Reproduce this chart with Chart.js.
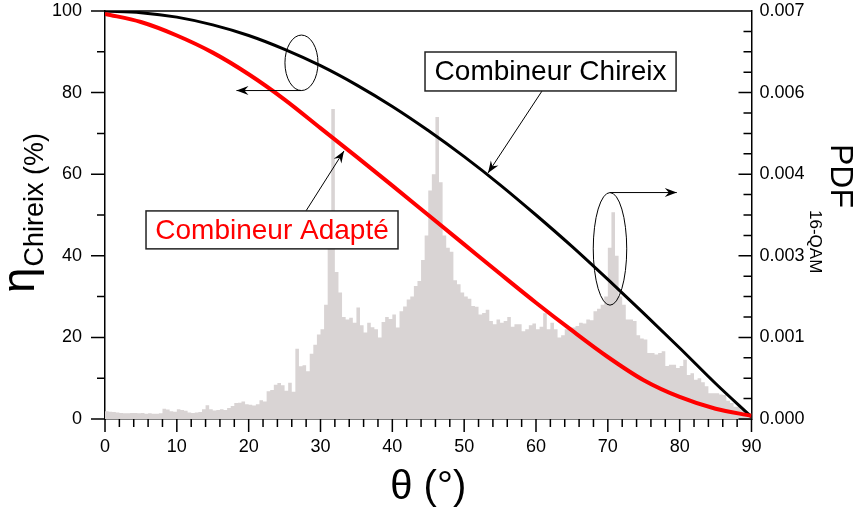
<!DOCTYPE html>
<html lang="fr">
<head>
<meta charset="UTF-8">
<title>Rendement Chireix et PDF 16-QAM</title>
<script src="https://cdn.jsdelivr.net/npm/chart.js@4.4.1/dist/chart.umd.min.js"></script>
<style>
    html, body { margin: 0; padding: 0; background: #fff; }
    .wrap { position: relative; width: 858px; height: 511px; }
</style>
</head>
<body>
<div class="wrap"><canvas id="chart"></canvas></div>
<script>
const thetaCurve = [0, 5, 10, 15, 20, 25, 30, 35, 40, 45, 50, 55, 60, 65, 70, 75, 80, 85, 90];
const etaChireix = [100, 99.6, 98.5, 96.6, 94.0, 90.6, 86.6, 81.9, 76.6, 70.7, 64.3, 57.4, 50.0, 42.3, 34.2, 25.9, 17.4, 8.7, 0.5];
const etaAdapte  = [99.3, 97.3, 94.0, 89.8, 84.5, 78.3, 71.3, 64.3, 57.2, 50.0, 42.8, 35.6, 28.5, 21.7, 15.2, 9.5, 5.4, 2.5, 0.8];

// histogram of theta for 16-QAM, 0.5 degree bins starting at 0
const binWidth = 0.5;
const pdf16qam = [
    0.000133, 0.000126, 0.000119, 0.000112, 0.000105, 0.000098, 0.000098, 0.000105, 0.000105, 0.000098,
    0.000105, 0.000091, 0.000098, 0.000091, 0.000091, 0.000098, 0.000175, 0.000161, 0.000133, 0.000126,
    0.000168, 0.000154, 0.000140, 0.000112, 0.000105, 0.000112, 0.000119, 0.000168, 0.000238, 0.000168,
    0.000147, 0.000154, 0.000168, 0.000154, 0.000189, 0.000224, 0.000273, 0.000280, 0.000301, 0.000252,
    0.000245, 0.000231, 0.000252, 0.000322, 0.000301, 0.000476, 0.000497, 0.000588, 0.000616, 0.000581,
    0.000483, 0.000623, 0.000469, 0.001204, 0.000903, 0.000924, 0.000819, 0.001120, 0.001274, 0.001449,
    0.001540, 0.001960, 0.003500, 0.005320, 0.002520, 0.002170, 0.001750, 0.001708, 0.001736, 0.001652,
    0.001911, 0.001610, 0.001484, 0.001652, 0.001575, 0.001540, 0.001400, 0.001666, 0.001750, 0.001715,
    0.001792, 0.001568, 0.001848, 0.001932, 0.002051, 0.002100, 0.002282, 0.002366, 0.002730, 0.003150,
    0.003920, 0.004200, 0.005180, 0.004060, 0.003150, 0.002940, 0.002870, 0.002380, 0.002310, 0.002170,
    0.002100, 0.002065, 0.001939, 0.001925, 0.001792, 0.001820, 0.001876, 0.001680, 0.001624, 0.001708,
    0.001652, 0.001680, 0.001750, 0.001582, 0.001624, 0.001624, 0.001505, 0.001540, 0.001610, 0.001638,
    0.001540, 0.001582, 0.001813, 0.001540, 0.001652, 0.001540, 0.001400, 0.001435, 0.001540, 0.001568,
    0.001568, 0.001596, 0.001652, 0.001638, 0.001708, 0.001694, 0.001848, 0.001890, 0.001960, 0.002100,
    0.002940, 0.003549, 0.002800, 0.002100, 0.001960, 0.001708, 0.001708, 0.001680, 0.001435, 0.001379,
    0.001365, 0.001134, 0.001134, 0.001106, 0.001134, 0.001162, 0.000910, 0.000931, 0.000931, 0.000875,
    0.000910, 0.001015, 0.000756, 0.000784, 0.000672, 0.000700, 0.000630, 0.000560, 0.000441, 0.000441,
    0.000441, 0.000420, 0.000413, 0.000315, 0.000273, 0.000210, 0.000210, 0.000154, 0.000126, 0.000105
];

// tick labels
const xTicks = [0, 10, 20, 30, 40, 50, 60, 70, 80, 90];
const leftTicks = [0, 20, 40, 60, 80, 100];
const rightTicks = [0, 0.0014, 0.0028, 0.0042, 0.0056, 0.007];

const FONT = '"Liberation Sans", Arial, sans-serif';

// step histogram: each bin holds its value from its left edge to the next edge
const histPoints = pdf16qam.map((v, i) => ({ x: i * binWidth, y: v }));
histPoints.push({ x: pdf16qam.length * binWidth, y: pdf16qam[pdf16qam.length - 1] });

function arrowHead(ctx, x0, y0, x1, y1) {
    const ang = Math.atan2(y1 - y0, x1 - x0);
    const L = 12, W = 4.5, N = 8;
    ctx.save();
    ctx.translate(x1, y1);
    ctx.rotate(ang);
    ctx.beginPath();
    ctx.moveTo(0, 0);
    ctx.lineTo(-L, -W);
    ctx.lineTo(-N, 0);
    ctx.lineTo(-L, W);
    ctx.closePath();
    ctx.fill();
    ctx.restore();
}

function textBox(ctx, x0, y0, x1, y1, label, color) {
    ctx.fillStyle = '#fff';
    ctx.fillRect(x0, y0, x1 - x0, y1 - y0);
    ctx.strokeStyle = '#222';
    ctx.lineWidth = 1.5;
    ctx.strokeRect(x0, y0, x1 - x0, y1 - y0);
    ctx.fillStyle = color;
    ctx.font = '28px ' + FONT;
    ctx.textAlign = 'center';
    ctx.textBaseline = 'middle';
    ctx.fillText(label, (x0 + x1) / 2, (y0 + y1) / 2 + 1);
}

const decor = {
    id: 'decor',
    afterDraw(chart) {
        const { ctx, chartArea: a } = chart;
        const sx = chart.scales.x, sy = chart.scales.y, sy2 = chart.scales.y2;
        const px = t => sx.getPixelForValue(t);
        const py = v => sy.getPixelForValue(v);
        ctx.save();

        // top frame + tick marks
        ctx.strokeStyle = '#000';
        ctx.lineWidth = 1.5;
        ctx.beginPath();
        ctx.moveTo(a.left, a.top);
        ctx.lineTo(a.right, a.top);
        for (let t = 0; t <= 90; t += 2) {
            const len = t % 10 === 0 ? 13 : 8;
            ctx.moveTo(px(t), a.bottom);
            ctx.lineTo(px(t), a.bottom + len);
        }
        for (let v = 0; v <= 100; v += 10) {
            const len = v % 20 === 0 ? 14 : 8;
            ctx.moveTo(a.left - len, py(v));
            ctx.lineTo(a.left, py(v));
        }
        for (let i = 0; i <= 20; i++) {
            const len = i % 4 === 0 ? 13 : 8;
            const Y = sy2.getPixelForValue(i * 0.00035);
            ctx.moveTo(a.right, Y);
            ctx.lineTo(a.right - len, Y);
        }
        ctx.stroke();

        // ellipses with arrows pointing to their axis
        ctx.lineWidth = 1;
        ctx.fillStyle = '#000';
        ctx.beginPath();
        ctx.ellipse(px(27.35), py(87.3), px(27.35) - px(25.05), py(80.5) - py(87.3), 0, 0, Math.PI * 2);
        ctx.stroke();
        ctx.beginPath();
        ctx.moveTo(px(27.35), py(80.5));
        ctx.lineTo(px(18.3), py(80.5));
        ctx.stroke();
        arrowHead(ctx, px(27.35), py(80.5), px(18.3), py(80.5));

        ctx.beginPath();
        ctx.ellipse(px(70.3), py(41.7), px(70.3) - px(67.97), py(27.9) - py(41.7), 0, 0, Math.PI * 2);
        ctx.stroke();
        ctx.beginPath();
        ctx.moveTo(px(70.3), py(55.5));
        ctx.lineTo(px(79.6), py(55.5));
        ctx.stroke();
        arrowHead(ctx, px(70.3), py(55.5), px(79.6), py(55.5));

        // leader lines
        ctx.beginPath();
        ctx.moveTo(px(60.84), py(80.4));
        ctx.lineTo(px(53.32), py(60.3));
        ctx.moveTo(px(27.98), py(51));
        ctx.lineTo(px(33.27), py(65.7));
        ctx.stroke();
        arrowHead(ctx, px(60.84), py(80.4), px(53.32), py(60.3));
        arrowHead(ctx, px(27.98), py(51), px(33.27), py(65.7));

        textBox(ctx, px(44.55), py(89.95), px(79.5), py(80.4), 'Combineur Chireix', '#000');
        textBox(ctx, px(5.71), py(51), px(40.79), py(41.7), 'Combineur Adapté', '#ff0000');

        // axis titles
        ctx.fillStyle = '#000';
        ctx.textAlign = 'left';
        ctx.textBaseline = 'alphabetic';

        ctx.save();
        ctx.translate(34, 293);
        ctx.rotate(-Math.PI / 2);
        ctx.font = '46px ' + FONT;
        ctx.fillText('η', 0, 0);
        const wEta = ctx.measureText('η').width;
        ctx.font = '27px ' + FONT;
        ctx.fillText('Chireix (%)', wEta + 1, 9);
        ctx.restore();

        ctx.save();
        ctx.translate(831, 144);
        ctx.rotate(Math.PI / 2);
        ctx.font = '32px ' + FONT;
        ctx.fillText('PDF', 0, 0);
        const wPdf = ctx.measureText('PDF').width;
        ctx.font = '17px ' + FONT;
        ctx.fillText('16-QAM', wPdf + 2, 21);
        ctx.restore();

        ctx.font = '40px ' + FONT;
        ctx.textAlign = 'center';
        ctx.fillText('θ (°)', (a.left + a.right) / 2, 499);

        ctx.restore();
    }
};

const tickFont = { family: FONT, size: 18 };

// drop the extra room Chart.js keeps for half tick labels at the axis ends
function noEndPadding(s) {
    s.paddingTop = 0;
    s.paddingBottom = 0;
    s.paddingLeft = 0;
    s.paddingRight = 0;
}

new Chart(document.getElementById('chart'), {
    type: 'line',
    data: {
        datasets: [
            {
                label: 'Combineur Adapté',
                data: thetaCurve.map((t, i) => ({ x: t, y: etaAdapte[i] })),
                borderColor: '#ff0000',
                borderWidth: 4,
                pointRadius: 0,
                cubicInterpolationMode: 'monotone',
                yAxisID: 'y',
                order: 1
            },
            {
                label: 'Combineur Chireix',
                data: thetaCurve.map((t, i) => ({ x: t, y: etaChireix[i] })),
                borderColor: '#000',
                borderWidth: 3,
                pointRadius: 0,
                cubicInterpolationMode: 'monotone',
                yAxisID: 'y',
                order: 2
            },
            {
                label: 'PDF 16-QAM',
                data: histPoints,
                stepped: 'before',
                borderWidth: 0,
                borderColor: 'rgba(0,0,0,0)',
                backgroundColor: '#d9d4d4',
                fill: 'origin',
                pointRadius: 0,
                yAxisID: 'y2',
                order: 3
            }
        ]
    },
    options: {
        responsive: true,
        maintainAspectRatio: false,
        animation: false,
        layout: { padding: { top: 11, left: 0, right: 0, bottom: 0 } },
        plugins: { legend: { display: false }, tooltip: { enabled: false } },
        scales: {
            x: {
                type: 'linear',
                min: 0,
                max: 90,
                grid: { display: false, drawTicks: false },
                border: { display: true, color: '#000', width: 1.5 },
                afterBuildTicks: s => { s.ticks = xTicks.map(v => ({ value: v })); },
                ticks: { color: '#000', font: tickFont, padding: 17, maxRotation: 0, autoSkip: false },
                afterFit: s => { s.height = 92; noEndPadding(s); }
            },
            y: {
                position: 'left',
                min: 0,
                max: 100,
                grid: { display: false, drawTicks: false },
                border: { display: true, color: '#000', width: 1.5 },
                afterBuildTicks: s => { s.ticks = leftTicks.map(v => ({ value: v })); },
                ticks: { color: '#000', font: tickFont, padding: 23 },
                afterFit: s => { s.width = 105; noEndPadding(s); }
            },
            y2: {
                position: 'right',
                min: 0,
                max: 0.007,
                grid: { display: false, drawTicks: false },
                border: { display: true, color: '#000', width: 1.5 },
                afterBuildTicks: s => { s.ticks = rightTicks.map(v => ({ value: v })); },
                ticks: { color: '#000', font: tickFont, padding: 8, callback: v => v.toFixed(3) },
                afterFit: s => { s.width = 106.5; noEndPadding(s); }
            }
        }
    },
    plugins: [decor]
});
</script>
</body>
</html>
